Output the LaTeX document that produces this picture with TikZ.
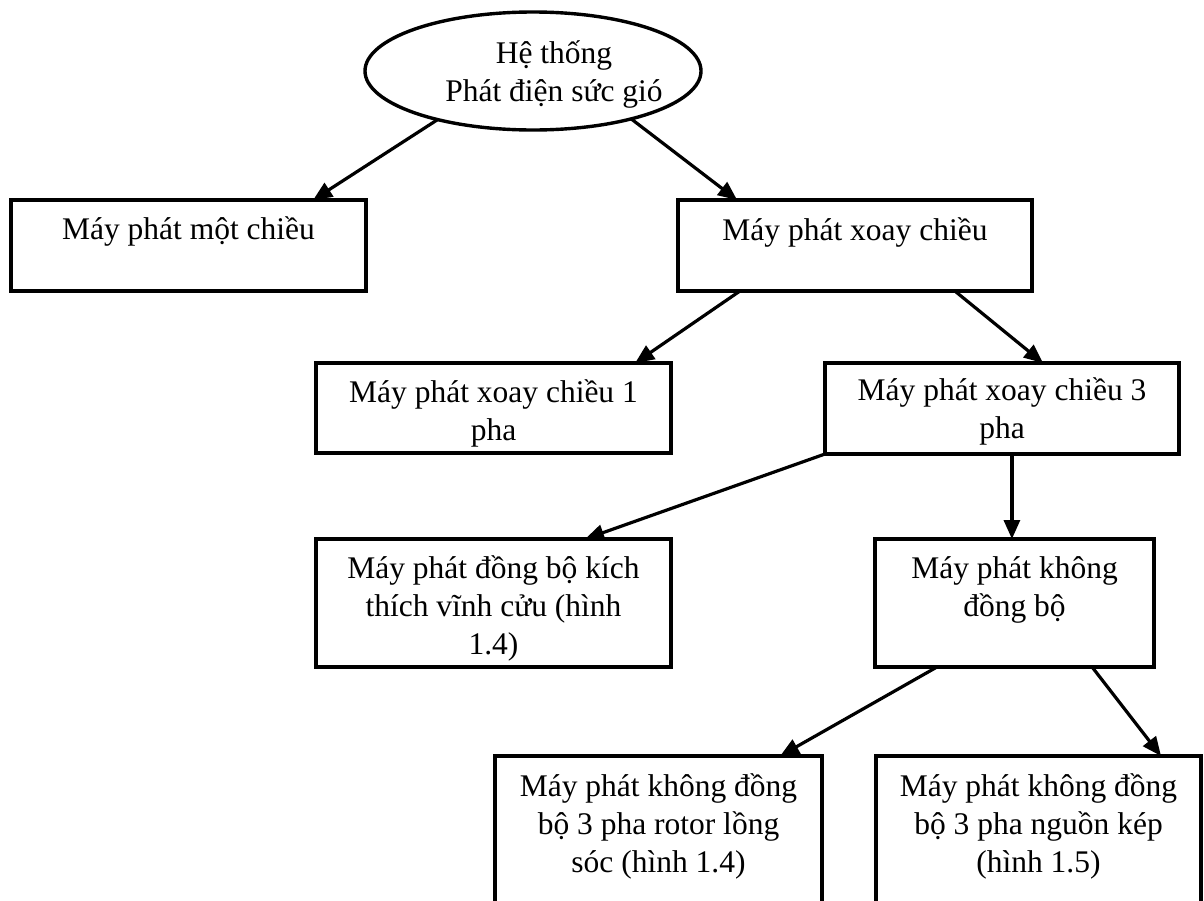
\documentclass[tikz,border=0pt]{standalone}
\usepackage{fontspec}
\setmainfont{Liberation Serif}
\usetikzlibrary{arrows.meta,calc,shapes.geometric}
\begin{document}
\begin{tikzpicture}[x=1pt,y=-1pt,
  box/.style={draw,line width=3.4pt,rectangle,inner sep=0pt,outer sep=0pt},
  oval/.style={draw,line width=3.4pt,ellipse,inner sep=0pt,outer sep=0pt,minimum width=336pt,minimum height=118pt},
  txt/.style={anchor=base,inner sep=0pt,font=\fontsize{31.5}{38}\selectfont},
  arr/.style={line width=3.2pt,-{Triangle[length=19pt,width=16pt]}}]
\useasboundingbox (0,0) rectangle (1204,900);
\clip (0,0) rectangle (1204,900);
\fill[white] (0,0) rectangle (1204,900);

% root
\node[oval] (e) at (533,71) {};
\node[txt] (te) at (554,63) {\parbox[t]{320pt}{\centering Hệ thống\\Phát điện sức gió}};

% boxes
\node[box,minimum width=355pt,minimum height=91pt] (b1) at (188.5,245.5) {};
\node[box,minimum width=354pt,minimum height=91pt] (b2) at (855,245.5) {};
\node[box,minimum width=355pt,minimum height=90pt] (b3) at (493.5,408) {};
\node[box,minimum width=354pt,minimum height=91pt] (b4) at (1002,408.5) {};
\node[box,minimum width=355pt,minimum height=128pt] (b5) at (493.5,603) {};
\node[box,minimum width=279pt,minimum height=128pt] (b6) at (1014.5,603) {};
\node[box,minimum width=327pt,minimum height=204pt] (b7) at (658.5,858) {};
\node[box,minimum width=325pt,minimum height=204pt] (b8) at (1038.5,858) {};

% texts
\node[txt] (t1) at (188.5,239) {\parbox[t]{340pt}{\centering Máy phát một chiều}};
\node[txt] (t2) at (855,240) {\parbox[t]{340pt}{\centering Máy phát xoay chiều}};
\node[txt] (t3) at (493.5,402) {\parbox[t]{340pt}{\centering Máy phát xoay chiều 1\\pha}};
\node[txt] (t4) at (1002,400) {\parbox[t]{340pt}{\centering Máy phát xoay chiều 3\\pha}};
\node[txt] (t5) at (493.5,578) {\parbox[t]{340pt}{\centering Máy phát đồng bộ kích\\thích vĩnh cửu (hình\\1.4)}};
\node[txt] (t6) at (1014.5,578) {\parbox[t]{270pt}{\centering Máy phát không\\đồng bộ}};
\node[txt] (t7) at (658.5,796) {\parbox[t]{320pt}{\centering Máy phát không đồng\\bộ 3 pha rotor lồng\\sóc (hình 1.4)}};
\node[txt] (t8) at (1038.5,796) {\parbox[t]{320pt}{\centering Máy phát không đồng\\bộ 3 pha nguồn kép\\(hình 1.5)}};

% connectors
\draw[arr] (e.-153) -- ($(b1.north west)!0.851!(b1.north east)$);
\draw[arr] (e.-26) -- ($(b2.north west)!0.167!(b2.north east)$);
\draw[arr] ($(b2.south west)!0.175!(b2.south east)$) -- ($(b3.north west)!0.899!(b3.north east)$);
\draw[arr] ($(b2.south west)!0.782!(b2.south east)$) -- ($(b4.north west)!0.616!(b4.north east)$);
\draw[arr] (b4.south west) -- ($(b5.north west)!0.758!(b5.north east)$);
\coordinate (v) at ($(b4.south west)!0.528!(b4.south east)$);
\draw[arr] (v) -- (v |- b6.north);
\draw[arr] ($(b6.south west)!0.222!(b6.south east)$) -- ($(b7.north west)!0.872!(b7.north east)$);
\draw[arr] ($(b6.south west)!0.778!(b6.south east)$) -- ($(b8.north west)!0.877!(b8.north east)$);
\end{tikzpicture}
\end{document}
